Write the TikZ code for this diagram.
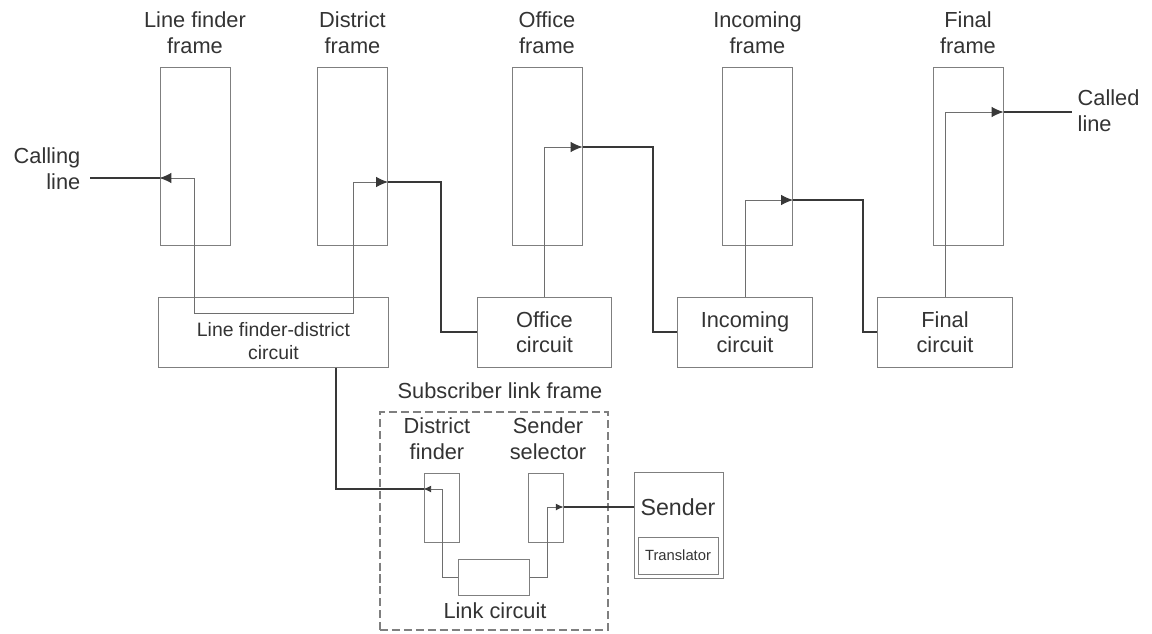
\documentclass[tikz,border=0pt]{standalone}
\usepackage{fontspec}
\setmainfont{Liberation Sans}
\usetikzlibrary{positioning,arrows.meta}

\definecolor{txtgray}{HTML}{333333}
\definecolor{boxgray}{HTML}{7F7F7F}
\definecolor{wiregray}{HTML}{6E6E6E}
\definecolor{trunkgray}{HTML}{383838}

\tikzset{
  >={Latex[length=8.5pt,width=7.5pt,color=trunkgray]},
  frame/.style={draw=boxgray, line width=0.7pt, minimum width=1.75cm, minimum height=4.425cm, inner sep=0pt},
  circbox/.style={draw=boxgray, line width=0.7pt, minimum width=3.35cm, minimum height=1.75cm, align=center, text=txtgray, font=\fontsize{15.5}{18}\selectfont},
  slframe/.style={draw=boxgray, line width=0.8pt, dash pattern=on 5.7pt off 2.8pt, inner sep=0pt},
  lbl/.style={align=center, text=txtgray, font=\fontsize{15.5}{18.5}\selectfont, inner sep=1pt},
  wire/.style={draw=wiregray, line width=0.7pt},
  trunk/.style={draw=trunkgray, line width=1.4pt}
}

\begin{document}
\begin{tikzpicture}[x=0.025cm, y=-0.025cm]
\useasboundingbox (0,0) rectangle (1152,633);

% Frames
\foreach \nm/\x/\txt in {lffr/195/{Line finder\\frame}, dsfr/352.5/{District\\frame}, offr/547/{Office\\frame}, infr/757.5/{Incoming\\frame}, fifr/968/{Final\\frame}}{
  \node[frame] (\nm) at (\x,156.5) {};
  \node[lbl, above=0.29cm of \nm] (\nm-lbl) {\txt};
}

% Circuits
\node[circbox, minimum width=5.725cm] (lfdc) at (273.5,332) {};
\node[lbl, font=\fontsize{13.8}{16}\selectfont] (lfdc-lbl) at (273.5,341) {Line finder-district\\circuit};
\node[circbox] (ofc) at (544.5,332) {Office\\circuit};
\node[circbox] (inc) at (745,332) {Incoming\\circuit};
\node[circbox] (fic) at (945,332) {Final\\circuit};

% Calling / called line
\node[lbl, align=right, anchor=east] (calling) at (82,169) {Calling\\line};
\coordinate (callin) at (90,178);
\node[lbl, align=left, anchor=west] (called) at (1076,111) {Called\\line};
\coordinate (callout) at (1072,112);

% Through connection
\draw[trunk] (callin) -- (callin -| lffr.west);
\draw[wire, <->] (lffr.west |- 0,178) -| (194,313) -| (353,182) -- (dsfr.east |- 0,182);
\draw[trunk] (dsfr.east |- 0,182) -- (441,182) |- (ofc.west);
\draw[wire, ->] (ofc.north) |- (offr.east |- 0,147);
\draw[trunk] (offr.east |- 0,147) -- (653,147) |- (inc.west);
\draw[wire, ->] (inc.north) |- (infr.east |- 0,200);
\draw[trunk] (infr.east |- 0,200) -- (863,200) |- (fic.west);
\draw[wire, ->] (fic.north) |- (fifr.east |- 0,112);
\draw[trunk] (fifr.east |- 0,112) -- (callout);

% Subscriber link frame
\node[slframe, minimum width=5.7cm, minimum height=5.45cm] (slf) at (494,521) {};
\node[lbl] (slf-lbl) at (500,391) {Subscriber link frame};
\node[frame, minimum width=0.875cm, minimum height=1.725cm] (dfn) at (441.5,507.5) {};
\node[lbl] (dfn-lbl) at (437,439) {District\\finder};
\node[frame, minimum width=0.875cm, minimum height=1.725cm] (ssel) at (545.5,507.5) {};
\node[lbl] (ssel-lbl) at (548,439) {Sender\\selector};
\node[frame, minimum width=1.775cm, minimum height=0.9cm] (link) at (493.5,577) {};
\node[lbl] (link-lbl) at (495,611) {Link circuit};

% Sender
\node[frame, minimum width=2.225cm, minimum height=2.65cm] (sender) at (678.5,525) {};
\node[lbl, font=\fontsize{16.5}{19}\selectfont] (sender-lbl) at (678,507) {Sender};
\node[frame, minimum width=2cm, minimum height=0.925cm, text=txtgray, font=\fontsize{10.5}{12}\selectfont] (transl) at (678,555.5) {Translator};

% Sender path
\draw[trunk] (lfdc.south -| 336,0) |- (dfn.west |- 0,489);
\draw[wire, {Latex[length=5.5pt,width=5pt,color=trunkgray]}-] (dfn.west |- 0,489) -| (link.west -| 442,0) -- (link.west);
\draw[wire, -{Latex[length=5.5pt,width=5pt,color=trunkgray]}] (link.east) -- (link.east -| 547,0) |- (ssel.east |- 0,507);
\draw[trunk] (ssel.east |- 0,507) -- (sender.west |- 0,507);

\end{tikzpicture}
\end{document}
